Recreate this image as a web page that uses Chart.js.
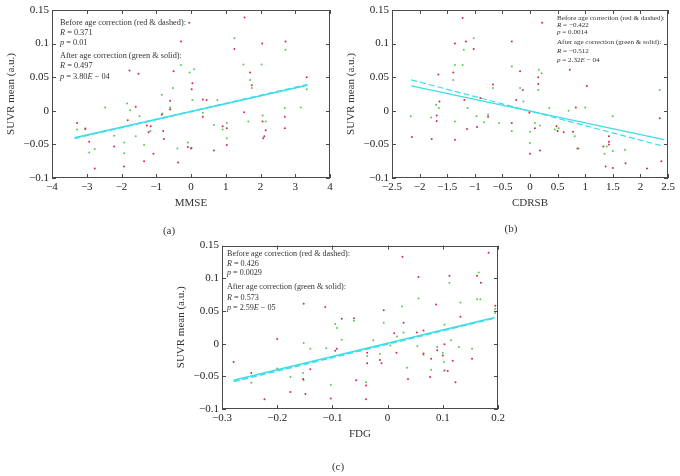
<!DOCTYPE html>
<html>
<head>
<meta charset="utf-8">
<script src="https://cdn.jsdelivr.net/npm/chart.js@4"></script>
<style>
  body { margin: 0; background: #fff; }
  #wrap { position: relative; width: 680px; height: 476px; }
  canvas { position: absolute; }
  .lbl { position: absolute; font: 11px "Liberation Serif", serif; color: #333; transform: translate(-50%, -50%); }
</style>
</head>
<body>
<div id="wrap">
  <canvas id="g1" width="340" height="236" style="left:0;top:0"></canvas>
  <canvas id="g2" width="340" height="236" style="left:340px;top:0"></canvas>
  <canvas id="g3" width="340" height="240" style="left:170px;top:236px"></canvas>
  <div class="lbl" style="left:169px;top:230px">(a)</div>
  <div class="lbl" style="left:511px;top:228px">(b)</div>
  <div class="lbl" style="left:338px;top:466px">(c)</div>
</div>
<script>
// ---- datos (a) MMSE ----
const rojoA = [[-0.05,0.131],[1.54,0.139],[-0.29,0.103],[1.25,0.092],[2.05,0.100],[2.72,0.103],[-1.77,0.060],[-1.51,0.055],[-0.50,0.059],[1.70,0.057],[1.75,0.038],[0.04,0.041],[0.02,0.032],[3.33,0.050],[-1.59,0.006],[-1.82,-0.014],[-0.60,0.002],[-0.60,0.015],[-0.84,-0.006],[0.34,0.017],[0.45,0.016],[0.34,-0.009],[1.53,-0.002],[2.70,-0.009],[2.06,-0.016],[-3.28,-0.018],[-3.04,-0.027],[-2.93,-0.046],[-2.77,-0.086],[-2.21,-0.053],[-1.93,-0.083],[-1.27,-0.022],[-1.16,-0.023],[-1.22,-0.032],[-1.35,-0.075],[-1.08,-0.064],[-0.80,-0.030],[-0.78,-0.042],[-0.37,-0.077],[-0.09,-0.054],[0.00,-0.056],[0.66,-0.059],[0.91,-0.023],[1.03,-0.026],[1.03,-0.051],[2.08,-0.041],[2.11,-0.038],[2.15,-0.029],[2.70,-0.026]];
const verdeA = [[1.25,0.108],[2.72,0.091],[-0.29,0.068],[-0.04,0.057],[0.09,0.062],[1.51,0.069],[2.03,0.069],[1.70,0.046],[1.75,0.034],[-0.52,0.034],[-0.84,0.024],[0.04,0.016],[3.33,0.032],[-2.47,0.005],[-1.84,0.011],[-1.75,0.001],[-1.48,-0.008],[-0.60,0.005],[-0.82,-0.004],[0.76,0.016],[0.34,-0.003],[1.65,-0.016],[2.70,0.004],[3.16,0.005],[2.06,-0.007],[2.15,-0.016],[-3.28,-0.028],[-3.04,-0.026],[-2.93,-0.062],[-2.77,-0.057],[-2.21,-0.037],[-1.92,-0.047],[-1.92,-0.063],[-1.59,-0.038],[-1.17,-0.030],[-1.35,-0.051],[-0.39,-0.056],[-0.09,-0.047],[0.02,-0.055],[0.66,-0.021],[1.03,-0.018],[1.03,-0.041],[0.91,-0.028]];
const solidaA = [[-3.35,-0.040],[3.35,0.038]];
const rayadaA = [[-3.35,-0.041],[3.35,0.039]];
const xTicksA = [-4,-3,-2,-1,0,1,2,3,4];

// ---- datos (b) CDRSB ----
const rojoB = [[-1.22,0.138],[-1.36,0.100],[-1.16,0.103],[-1.02,0.092],[-1.39,0.057],[-1.66,0.054],[-0.33,0.103],[0.22,0.131],[-0.18,0.059],[0.15,0.050],[0.15,0.040],[0.72,0.061],[1.03,0.037],[2.35,-0.011],[2.38,-0.075],[2.12,-0.086],[1.73,-0.078],[1.50,-0.085],[1.37,-0.083],[1.43,-0.038],[1.43,-0.046],[1.43,-0.050],[1.33,-0.053],[0.83,0.005],[0.86,-0.056],[0.48,-0.023],[0.50,-0.030],[0.61,-0.032],[0.78,-0.031],[0.18,-0.059],[0.09,-0.026],[0.00,-0.064],[-0.25,0.016],[-0.13,0.031],[-0.33,-0.018],[-0.67,0.039],[-0.76,-0.009],[-0.90,0.019],[-1.14,-0.027],[-1.19,0.016],[-1.36,-0.043],[-1.64,0.014],[-1.69,-0.007],[-1.69,-0.015],[-1.78,-0.042],[-2.14,-0.039],[-0.96,-0.024],[-0.01,-0.003]];
const verdeB = [[-1.20,0.091],[-1.02,0.108],[-1.36,0.068],[-1.22,0.068],[-1.39,0.046],[-0.33,0.066],[0.16,0.061],[0.21,0.056],[0.15,0.031],[2.35,0.031],[1.72,-0.058],[1.50,-0.060],[1.50,-0.008],[1.39,-0.053],[1.35,-0.064],[0.70,0.000],[1.00,0.005],[0.81,-0.038],[0.88,-0.056],[0.45,-0.028],[0.52,-0.026],[0.18,-0.022],[0.09,-0.018],[0.00,-0.048],[0.00,-0.031],[-0.12,0.014],[-0.18,0.034],[-0.33,-0.030],[-0.56,-0.018],[-0.67,0.034],[-0.83,-0.017],[-1.13,0.004],[-1.36,-0.016],[-1.65,0.004],[-1.70,0.009],[-1.79,-0.010],[-2.16,-0.008],[-0.97,-0.008],[-0.76,-0.006],[0.35,0.004]];
const solidaB = [[-2.15,0.037],[2.43,-0.043]];
const rayadaB = [[-2.15,0.046],[2.43,-0.053]];
const xTicksB = [-2.5,-2,-1.5,-1,-0.5,0,0.5,1,1.5,2,2.5];

// ---- datos (c) FDG ----
const rojoC = [[0.027,0.133],[0.183,0.139],[0.056,0.102],[0.112,0.104],[0.162,0.104],[0.169,0.093],[0.088,0.060],[-0.152,0.061],[-0.113,0.056],[-0.007,0.051],[-0.061,0.039],[-0.083,0.038],[0.132,0.041],[0.195,0.058],[0.029,0.032],[-0.200,0.007],[0.012,0.016],[0.053,0.017],[0.065,0.020],[-0.092,-0.008],[-0.095,-0.011],[0.016,-0.014],[-0.014,-0.025],[-0.011,-0.030],[-0.037,-0.014],[-0.037,-0.030],[0.037,-0.054],[0.065,-0.015],[0.090,-0.010],[0.079,-0.023],[0.077,-0.051],[0.103,-0.001],[0.103,-0.041],[0.109,-0.042],[0.123,-0.059],[0.153,-0.023],[-0.279,-0.028],[-0.247,-0.045],[-0.223,-0.085],[-0.176,-0.074],[-0.153,-0.054],[-0.149,-0.077],[-0.140,-0.039],[-0.103,-0.084],[-0.057,-0.056],[-0.039,-0.064],[-0.039,-0.085],[0.100,-0.018],[0.118,-0.026]];
const verdeC = [[0.165,0.109],[0.112,0.093],[0.056,0.069],[0.162,0.068],[0.168,0.068],[0.132,0.063],[0.026,0.057],[-0.061,0.035],[-0.007,0.032],[0.195,0.053],[0.195,0.047],[0.029,0.017],[-0.095,0.030],[-0.092,0.024],[-0.083,0.006],[-0.026,0.005],[0.017,0.011],[0.103,0.029],[-0.152,0.001],[-0.111,-0.007],[-0.140,-0.008],[-0.014,-0.016],[-0.037,-0.019],[0.035,-0.037],[0.054,-0.004],[0.065,-0.017],[0.090,-0.005],[0.079,-0.040],[0.100,-0.014],[0.102,-0.028],[0.129,-0.005],[0.153,-0.008],[-0.247,-0.060],[-0.200,-0.038],[-0.176,-0.051],[-0.153,-0.045],[-0.152,-0.056],[-0.103,-0.063],[-0.039,-0.059],[0.005,-0.003],[0.115,0.005]];
const solidaC = [[-0.279,-0.056],[0.194,0.040]];
const rayadaC = [[-0.279,-0.058],[0.194,0.039]];
const xTicksC = [-0.3,-0.25,-0.2,-0.15,-0.1,-0.05,0,0.05,0.1,0.15,0.2];

const yTicks = [-0.1,-0.05,0,0.05,0.1,0.15];

// textos de las notas (_x_ = cursiva)
const notasA = ["Before age correction (red & dashed):", "_R_ = 0.371", "_p_ = 0.01", "After age correction (green & solid):", "_R_ = 0.497", "_p_ = 3.80_E_ − 04"];
const notasB = ["Before age correction (red & dashed):", "_R_ = −0.422", "_p_ = 0.0014", "After age correction (green & solid):", "_R_ = −0.512", "_p_ = 2.32_E_ − 04"];
const notasC = ["Before age correction (red & dashed):", "_R_ = 0.426", "_p_ = 0.0029", "After age correction (green & solid):", "_R_ = 0.573", "_p_ = 2.59_E_ − 05"];

const FUENTE = '"Liberation Serif", serif';
const ROJO = 'rgb(214,40,72)';
const VERDE = 'rgb(86,200,86)';
const CIAN = 'rgb(60,222,232)';

function aPuntos(arr){
  return arr.map(p => ({x: p[0], y: p[1]}));
}

function fmt(v){
  return String(v).replace('-', '\u2212');
}

// caja con marcas hacia dentro + notas de texto
const cajaPlugin = {
  id: 'caja',
  afterDraw(chart, args, opts){
    const ctx = chart.ctx;
    const a = chart.chartArea;
    const x = chart.scales.x, y = chart.scales.y;
    ctx.save();
    ctx.strokeStyle = '#4a4a4a';
    ctx.lineWidth = 1;
    ctx.strokeRect(Math.round(a.left)+0.5, Math.round(a.top)+0.5, Math.round(a.right-a.left)-1, Math.round(a.bottom-a.top)-1);
    ctx.beginPath();
    x.ticks.forEach(t => {
      const px = Math.round(x.getPixelForValue(t.value))+0.5;
      ctx.moveTo(px, a.bottom); ctx.lineTo(px, a.bottom-4);
      ctx.moveTo(px, a.top); ctx.lineTo(px, a.top+4);
    });
    y.ticks.forEach(t => {
      const py = Math.round(y.getPixelForValue(t.value))+0.5;
      ctx.moveTo(a.left, py); ctx.lineTo(a.left+4, py);
      ctx.moveTo(a.right, py); ctx.lineTo(a.right-4, py);
    });
    ctx.stroke();

    // notas
    ctx.fillStyle = '#333';
    ctx.textBaseline = 'middle';
    opts.lineas.forEach((txt, i) => {
      let cx = opts.x;
      txt.split('_').forEach((seg, k) => {
        ctx.font = (k % 2 ? 'italic ' : '') + opts.size + 'px ' + FUENTE;
        ctx.fillText(seg, cx, opts.ys[i]);
        cx += ctx.measureText(seg).width;
      });
    });
    ctx.restore();
  }
};

function graficar(id, rojo, verde, solida, rayada, xTicks, xMin, xMax, titulo, pad, yTop, notas, notaX, notaYs, notaSize, grosor){
  const ctx = document.getElementById(id).getContext('2d');
  return new Chart(ctx, {
    type: 'scatter',
    data: {
      datasets: [
        {data: aPuntos(rojo), backgroundColor: ROJO, pointRadius: 1, borderWidth: 0},
        {data: aPuntos(verde), backgroundColor: VERDE, pointRadius: 1, borderWidth: 0},
        {data: aPuntos(rayada), showLine: true, borderColor: CIAN, borderWidth: grosor, borderDash: [6, 3], pointRadius: 0},
        {data: aPuntos(solida), showLine: true, borderColor: CIAN, borderWidth: grosor, pointRadius: 0}
      ]
    },
    options: {
      responsive: false,
      animation: false,
      devicePixelRatio: 1,
      layout: {padding: {left: 5, top: yTop, right: pad.right, bottom: pad.bottom}},
      plugins: {
        legend: {display: false},
        tooltip: {enabled: false},
        caja: {lineas: notas, x: notaX, ys: notaYs, size: notaSize}
      },
      scales: {
        x: {
          type: 'linear', min: xMin, max: xMax,
          afterBuildTicks: s => { s.ticks = xTicks.map(v => ({value: v})); },
          afterFit: s => { s.height = 32; },
          grid: {display: false, drawTicks: false},
          border: {display: false},
          ticks: {padding: 3, color: '#222', font: {family: FUENTE, size: 11}, maxRotation: 0, callback: v => fmt(v)},
          title: {display: true, text: titulo, color: '#333', padding: 0, font: {family: FUENTE, size: 11}}
        },
        y: {
          type: 'linear', min: -0.1, max: 0.15,
          afterBuildTicks: s => { s.ticks = yTicks.map(v => ({value: v})); },
          afterFit: s => { s.width = 47; },
          grid: {display: false, drawTicks: false},
          border: {display: false},
          ticks: {padding: 3, color: '#222', font: {family: FUENTE, size: 11}, callback: v => fmt(v)},
          title: {display: true, text: 'SUVR mean (a.u.)', color: '#333', padding: 0, font: {family: FUENTE, size: 11}}
        }
      }
    },
    plugins: [cajaPlugin]
  });
}

graficar('g1', rojoA, verdeA, solidaA, rayadaA, xTicksA, -4, 4, 'MMSE', {right: 10, bottom: 26}, 10, notasA, 60, [23,33,43,55.5,66,77], 8.3, 1.6);
graficar('g2', rojoB, verdeB, solidaB, rayadaB, xTicksB, -2.5, 2.5, 'CDRSB', {right: 12, bottom: 26}, 10, notasB, 217, [18.5,25.5,32.5,42.5,51,60], 7.1, 1.2);
graficar('g3', rojoC, verdeC, solidaC, rayadaC, xTicksC, -0.3, 0.2, 'FDG', {right: 12, bottom: 35}, 6, notasC, 57, [17.5,27.5,37,51,61.5,72], 8.1, 1.6);
</script>
</body>
</html>
